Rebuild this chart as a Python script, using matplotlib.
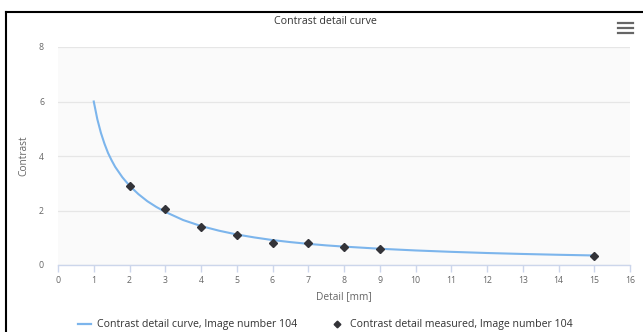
import matplotlib
matplotlib.use('Agg')
import matplotlib.pyplot as plt
from matplotlib.lines import Line2D

plt.rcParams['font.family'] = ['Open Sans', 'DejaVu Sans']

# Fitted curve
curve_x = [1, 1.1, 1.2, 1.3, 1.4, 1.5, 1.6, 1.8, 2, 2.25, 2.5, 2.75, 3, 3.5, 4, 4.5,
           5, 5.5, 6, 6.5, 7, 7.5, 8, 9, 10, 11, 12, 13, 14, 15]
curve_y = [6.0, 5.35, 4.85, 4.45, 4.11, 3.84, 3.6, 3.22, 2.91, 2.6, 2.34, 2.13, 1.95,
           1.65, 1.43, 1.26, 1.12, 1.01, 0.915, 0.84, 0.776, 0.72, 0.675, 0.597, 0.534,
           0.483, 0.44, 0.405, 0.375, 0.35]

# Measured points
meas_x = [2, 3, 4, 5, 6, 7, 8, 9, 15]
meas_y = [2.91, 2.05, 1.38, 1.10, 0.80, 0.82, 0.65, 0.58, 0.33]

x_ticks = list(range(0, 17))
y_ticks = [0, 2, 4, 6, 8]

W, H = 643, 332
fig = plt.figure(figsize=(W / 100, H / 100), dpi=100)
fig.patch.set_facecolor('white')

# plot area
ax = fig.add_axes([58 / W, (H - 265) / H, (630 - 58) / W, (265 - 47) / H])
ax.set_facecolor('#fafafa')

ax.plot(curve_x, curve_y, color='#7cb5ec', lw=1.5, zorder=3)
ax.plot(meas_x, meas_y, linestyle='none', marker='D', ms=3.6, color='#333338', zorder=4)

ax.set_xlim(0, 16)
ax.set_ylim(0, 8)
ax.set_xticks(x_ticks)
ax.set_yticks(y_ticks)
ax.grid(axis='y', color='#e6e6e6', lw=0.9)
ax.set_axisbelow(True)
for s in ['top', 'right', 'left']:
    ax.spines[s].set_visible(False)
ax.spines['bottom'].set_color('#ccd6eb')
ax.spines['bottom'].set_linewidth(1)
ax.tick_params(axis='x', colors='#ccd6eb', length=5, width=1, labelcolor='#666666',
               labelsize=6.3, pad=3)
ax.tick_params(axis='y', length=0, labelcolor='#666666', labelsize=6.3, pad=10)

ax.set_xlabel('Detail [mm]', fontsize=7.3, color='#666666', labelpad=4)
ax.set_ylabel('Contrast', fontsize=7.3, color='#666666', labelpad=7)

fig.text(325 / W, 1 - 22 / H, 'Contrast detail curve', ha='center', va='center',
         fontsize=7.7, color='#333333')

# legend
handles = [Line2D([], [], color='#7cb5ec', lw=1.6),
           Line2D([], [], linestyle='none', marker='D', ms=3.4, color='#333338')]
labels = ['Contrast detail curve, Image number 104',
          'Contrast detail measured, Image number 104']
fig.legend(handles, labels, loc='center', bbox_to_anchor=(325 / W, 1 - 325 / H),
           ncol=2, frameon=False, fontsize=7.6, handlelength=1.3, handletextpad=0.5,
           columnspacing=3.2, labelcolor='#333333')

# menu icon
for yy in [23, 28, 33]:
    fig.add_artist(Line2D([618 / W, 633 / W], [1 - yy / H, 1 - yy / H],
                          color='#666666', lw=1.6))

# outer frame (left and top edges visible)
fig.add_artist(Line2D([6 / W, 6 / W], [0, 1 - 12 / H], color='black', lw=1.5))
fig.add_artist(Line2D([6 / W, 1], [1 - 12 / H, 1 - 12 / H], color='black', lw=1.5))

fig.savefig('out.png', dpi=100)
